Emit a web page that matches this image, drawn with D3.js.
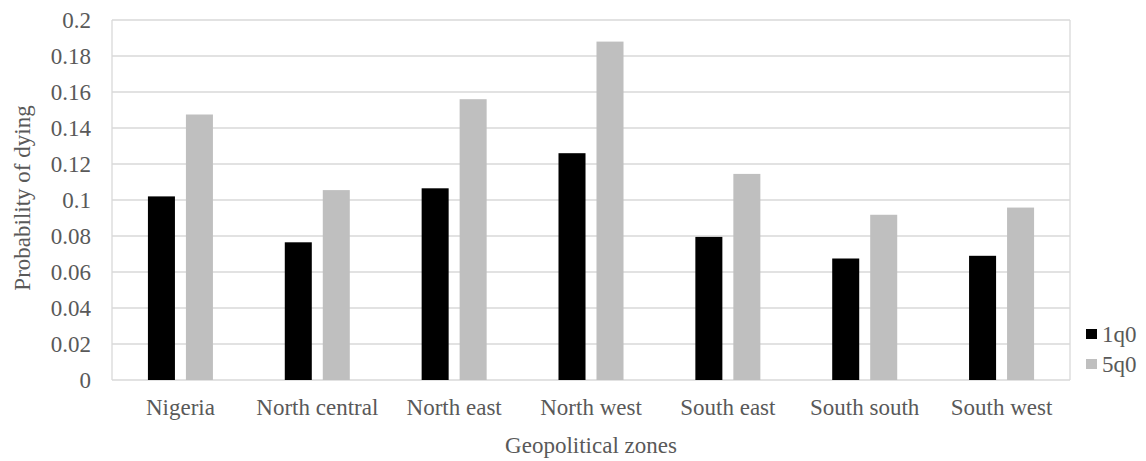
<!DOCTYPE html>
<html>
<head>
<meta charset="utf-8">
<script src="https://cdn.jsdelivr.net/npm/d3@7"></script>
<style>
  html, body { margin: 0; padding: 0; background: #fff; }
  svg { display: block; }
  text { font-family: "Liberation Serif", "Times New Roman", serif; fill: #595959; }
</style>
</head>
<body>
<svg id="chart" width="1146" height="461"></svg>
<script>
const categories = ["Nigeria", "North central", "North east", "North west", "South east", "South south", "South west"];
const seriesNames = ["1q0", "5q0"];
const values1q0 = [0.102, 0.0765, 0.1065, 0.126, 0.0795, 0.0675, 0.069];
const values5q0 = [0.1475, 0.1055, 0.156, 0.188, 0.1145, 0.0918, 0.0958];
const yTicks = [0, 0.02, 0.04, 0.06, 0.08, 0.1, 0.12, 0.14, 0.16, 0.18, 0.2];
const yTickLabels = ["0", "0.02", "0.04", "0.06", "0.08", "0.1", "0.12", "0.14", "0.16", "0.18", "0.2"];
const colors = ["#000000", "#bfbfbf"];
const yTitle = "Probability of dying";
const xTitle = "Geopolitical zones";

const svg = d3.select("#chart");
const pLeft = 112, pRight = 1070, pTop = 20, pBottom = 380;
const fs = 23;
const fontStack = '"Liberation Serif", "Times New Roman", serif';

const x = d3.scaleBand().domain(categories).range([pLeft, pRight]).paddingInner(0.525).paddingOuter(0.2625);
const xs = d3.scaleBand().domain(seriesNames).range([0, x.bandwidth()]).paddingInner(0.289);
const y = d3.scaleLinear().domain([0, 0.2]).range([pBottom, pTop]);

// gridlines
svg.append("g").selectAll("line").data(yTicks).join("line")
  .attr("x1", pLeft).attr("x2", pRight)
  .attr("y1", d => y(d)).attr("y2", d => y(d))
  .attr("stroke", "#d9d9d9").attr("stroke-width", 1.3);
// plot border sides
svg.append("line").attr("x1", pLeft).attr("x2", pLeft).attr("y1", pTop).attr("y2", pBottom)
  .attr("stroke", "#d9d9d9").attr("stroke-width", 1.3);
svg.append("line").attr("x1", pRight).attr("x2", pRight).attr("y1", pTop).attr("y2", pBottom)
  .attr("stroke", "#d9d9d9").attr("stroke-width", 1.3);

// y axis labels
const yAxis = d3.axisLeft(y).tickValues(yTicks).tickFormat((d, i) => yTickLabels[i]).tickSize(0).tickPadding(21);
const gy = svg.append("g").attr("transform", `translate(${pLeft},0)`).call(yAxis);
gy.attr("font-family", null).attr("font-size", null);
gy.select(".domain").remove();
gy.selectAll("text").style("font-size", fs + "px").style("fill", "#595959").style("font-family", fontStack);

// x axis labels
const xAxis = d3.axisBottom(x).tickSize(0).tickPadding(19);
const gx = svg.append("g").attr("transform", `translate(0,${pBottom})`).call(xAxis);
gx.attr("font-family", null).attr("font-size", null);
gx.select(".domain").remove();
gx.selectAll("text").style("font-size", fs + "px").style("fill", "#595959").style("font-family", fontStack);

// bars
const data = categories.map((c, i) => ({ c, vals: [values1q0[i], values5q0[i]] }));
const groups = svg.append("g").selectAll("g").data(data).join("g")
  .attr("transform", d => `translate(${x(d.c)},0)`);
groups.selectAll("rect").data(d => d.vals.map((v, j) => ({ s: seriesNames[j], v, j })))
  .join("rect")
  .attr("x", d => xs(d.s))
  .attr("width", xs.bandwidth())
  .attr("y", d => y(d.v))
  .attr("height", d => y(0) - y(d.v))
  .attr("fill", d => colors[d.j]);

// axis titles
svg.append("text").attr("x", (pLeft + pRight) / 2).attr("y", 453)
  .attr("text-anchor", "middle").style("font-size", fs + "px").text(xTitle);
svg.append("text").attr("transform", `translate(30,${(pTop + pBottom) / 2 - 2}) rotate(-90)`)
  .attr("text-anchor", "middle").style("font-size", fs + "px").text(yTitle);

// legend
const lg = svg.append("g").attr("transform", "translate(1086,329)");
seriesNames.forEach((s, i) => {
  lg.append("rect").attr("x", 0).attr("y", i * 30).attr("width", 11).attr("height", 10).attr("fill", colors[i]);
  lg.append("text").attr("x", 16).attr("y", i * 30 + 13).style("font-size", fs + "px").text(s);
});
</script>
</body>
</html>
